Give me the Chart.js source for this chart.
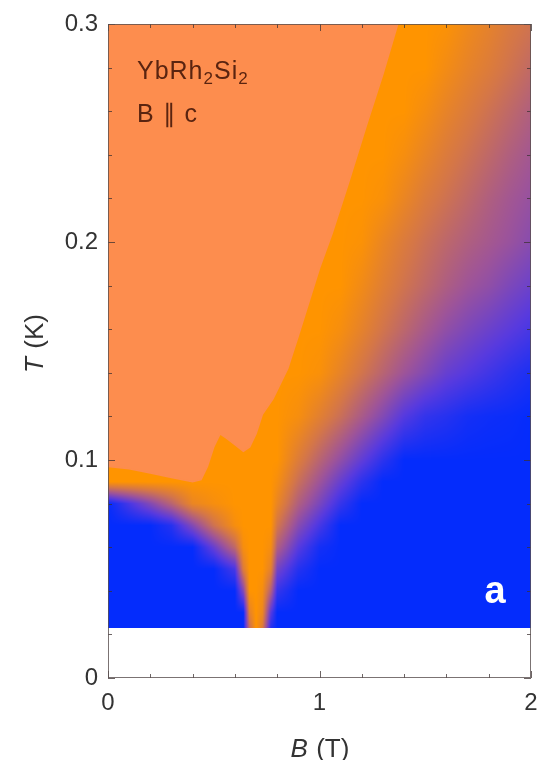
<!DOCTYPE html>
<html>
<head>
<meta charset="utf-8">
<script src="https://cdn.jsdelivr.net/npm/chart.js@4.4.1/dist/chart.umd.min.js"></script>
<style>
	html, body { margin: 0; padding: 0; background: #fff; }
	canvas { display: block; }
</style>
</head>
<body>
<canvas id="myChart" width="538" height="760"></canvas>
<script>
// grid of the colour map: field B (T) columns, temperature T (K) rows
const fieldB = [0, 0.1, 0.2, 0.3, 0.4, 0.5, 0.6, 0.64, 0.67, 0.7, 0.73, 0.77, 0.8, 0.9, 1.0, 1.1, 1.2, 1.3, 1.4, 1.5, 1.6, 1.7, 1.8, 1.9, 2.0]
const tempT = [0.023, 0.03, 0.04, 0.05, 0.06, 0.07, 0.08, 0.09, 0.1, 0.12, 0.14, 0.16, 0.18, 0.2, 0.22, 0.24, 0.26, 0.28, 0.3]

// resistivity exponent, one row per temperature (1 = orange, 2 = blue)
const exponent = [
	[2, 2, 2, 2, 2, 2, 2, 2, 1.3, 1, 1.2, 1.9, 2, 2, 2, 2, 2, 2, 2, 2, 2, 2, 2, 2, 2],
	[2, 2, 2, 2, 2, 2, 2, 2, 1.15, 1, 1.1, 1.75, 2, 2, 2, 2, 2, 2, 2, 2, 2, 2, 2, 2, 2],
	[2, 2, 2, 2, 2, 2, 2, 1.6, 1, 1, 1.05, 1.4, 1.85, 2, 2, 2, 2, 2, 2, 2, 2, 2, 2, 2, 2],
	[2, 2, 2, 2, 2, 2, 1.8, 1.2, 1, 1, 1, 1.15, 1.65, 1.9, 2, 2, 2, 2, 2, 2, 2, 2, 2, 2, 2],
	[2, 2, 2, 2, 2, 1.7, 1.35, 1.05, 1, 1, 1, 1.05, 1.42, 1.75, 1.95, 2, 2, 2, 2, 2, 2, 2, 2, 2, 2],
	[2, 2, 2, 1.9, 1.6, 1.28, 1.05, 1, 1, 1, 1, 1, 1.25, 1.58, 1.8, 2, 2, 2, 2, 2, 2, 2, 2, 2, 2],
	[2, 1.8, 1.6, 1.38, 1.12, 1.05, 1, 1, 1, 1, 1, 1, 1.12, 1.42, 1.63, 1.85, 2, 2, 2, 2, 2, 2, 2, 2, 2],
	[1, 1, 1, 1, 1, 1, 1, 1, 1, 1, 1, 1, 1.05, 1.3, 1.5, 1.7, 1.88, 2, 2, 2, 2, 2, 2, 2, 2],
	[1, 1, 1, 1, 1, 1, 1, 1, 1, 1, 1, 1, 1, 1.2, 1.38, 1.55, 1.72, 1.88, 2, 2, 2, 2, 2, 2, 2],
	[1, 1, 1, 1, 1, 1, 1, 1, 1, 1, 1, 1, 1, 1.05, 1.17, 1.3, 1.45, 1.6, 1.76, 1.86, 1.9, 1.95, 1.97, 1.98, 2],
	[1, 1, 1, 1, 1, 1, 1, 1, 1, 1, 1, 1, 1, 1, 1.03, 1.14, 1.26, 1.38, 1.5, 1.6, 1.7, 1.76, 1.82, 1.88, 1.93],
	[1, 1, 1, 1, 1, 1, 1, 1, 1, 1, 1, 1, 1, 1, 1, 1.05, 1.15, 1.26, 1.36, 1.46, 1.55, 1.62, 1.68, 1.74, 1.8],
	[1, 1, 1, 1, 1, 1, 1, 1, 1, 1, 1, 1, 1, 1, 1, 1, 1.08, 1.18, 1.27, 1.35, 1.43, 1.5, 1.55, 1.62, 1.68],
	[1, 1, 1, 1, 1, 1, 1, 1, 1, 1, 1, 1, 1, 1, 1, 1, 1.02, 1.12, 1.21, 1.29, 1.36, 1.42, 1.47, 1.52, 1.58],
	[1, 1, 1, 1, 1, 1, 1, 1, 1, 1, 1, 1, 1, 1, 1, 1, 1, 1.03, 1.12, 1.21, 1.28, 1.35, 1.42, 1.48, 1.53],
	[1, 1, 1, 1, 1, 1, 1, 1, 1, 1, 1, 1, 1, 1, 1, 1, 1, 1, 1.05, 1.13, 1.21, 1.28, 1.35, 1.42, 1.48],
	[1, 1, 1, 1, 1, 1, 1, 1, 1, 1, 1, 1, 1, 1, 1, 1, 1, 1, 1, 1.06, 1.14, 1.21, 1.28, 1.35, 1.42],
	[1, 1, 1, 1, 1, 1, 1, 1, 1, 1, 1, 1, 1, 1, 1, 1, 1, 1, 1, 1, 1.07, 1.14, 1.2, 1.27, 1.34],
	[1, 1, 1, 1, 1, 1, 1, 1, 1, 1, 1, 1, 1, 1, 1, 1, 1, 1, 1, 1, 1.02, 1.09, 1.15, 1.22, 1.27],
]

// upper crossover line, above it the light salmon region
const edgeB = [0, 0.1, 0.2, 0.3, 0.4, 0.44, 0.47, 0.5, 0.53, 0.56, 0.6, 0.64, 0.67, 0.7, 0.73, 0.78, 0.85, 0.9, 1.0, 1.06, 1.14, 1.22, 1.3, 1.37]
const edgeT = [0.097, 0.096, 0.094, 0.092, 0.09, 0.091, 0.097, 0.106, 0.112, 0.11, 0.107, 0.104, 0.106, 0.112, 0.121, 0.128, 0.142, 0.157, 0.188, 0.204, 0.228, 0.253, 0.277, 0.3]

const SALMON = 'rgb(253,141,78)'
const stops = [
	[1, [255, 148, 0]],
	[1.25, [212, 118, 72]],
	[1.5, [158, 84, 152]],
	[1.75, [88, 58, 222]],
	[2, [4, 44, 252]],
]

function colourOf(e) {
	if (e <= stops[0][0]) return stops[0][1]
	for (let k = 1; k < stops.length; k++) {
		if (e <= stops[k][0]) {
			const f = (e - stops[k - 1][0]) / (stops[k][0] - stops[k - 1][0])
			const a = stops[k - 1][1], b = stops[k][1]
			return [a[0] + (b[0] - a[0]) * f, a[1] + (b[1] - a[1]) * f, a[2] + (b[2] - a[2]) * f]
		}
	}
	return stops[stops.length - 1][1]
}

function locate(arr, v) {
	if (v < arr[0] - 1e-9) return null
	let k = 0
	while (k < arr.length - 2 && v > arr[k + 1]) k++
	const f = Math.min(1, Math.max(0, (v - arr[k]) / (arr[k + 1] - arr[k])))
	return [k, f]
}

const heatmap = {
	id: 'heatmap',
	beforeDatasetsDraw(chart) {
		const { ctx, chartArea: a, scales: { x, y } } = chart
		const w = Math.round(a.right - a.left)
		const h = Math.round(a.bottom - a.top)
		const off = document.createElement('canvas')
		off.width = w
		off.height = h
		const octx = off.getContext('2d')
		const img = octx.createImageData(w, h)
		const cols = []
		const rows = []
		for (let i = 0; i < w; i++) cols.push(locate(fieldB, x.getValueForPixel(a.left + i + 0.5)))
		for (let j = 0; j < h; j++) rows.push(locate(tempT, y.getValueForPixel(a.top + j + 0.5)))
		for (let j = 0; j < h; j++) {
			const r = rows[j]
			if (!r) continue
			const [rj, fy] = r
			for (let i = 0; i < w; i++) {
				const [ci, fx] = cols[i]
				const e =
					(1 - fx) * (1 - fy) * exponent[rj][ci] +
					fx * (1 - fy) * exponent[rj][ci + 1] +
					(1 - fx) * fy * exponent[rj + 1][ci] +
					fx * fy * exponent[rj + 1][ci + 1]
				const c = colourOf(e)
				const p = (j * w + i) * 4
				img.data[p] = c[0]
				img.data[p + 1] = c[1]
				img.data[p + 2] = c[2]
				img.data[p + 3] = 255
			}
		}
		octx.putImageData(img, 0, 0)
		ctx.drawImage(off, a.left, a.top)
	},
}

const decorations = {
	id: 'decorations',
	afterDraw(chart) {
		const { ctx, chartArea: a, scales: { x, y } } = chart
		ctx.save()
		// ticks on all four sides, pointing inwards
		ctx.strokeStyle = 'rgba(60,50,50,0.75)'
		ctx.lineWidth = 1
		const seg = (x1, y1, x2, y2) => {
			ctx.beginPath()
			ctx.moveTo(x1, y1)
			ctx.lineTo(x2, y2)
			ctx.stroke()
		}
		x.ticks.forEach((t) => {
			const px = Math.round(x.getPixelForValue(t.value)) + 0.5
			const len = Math.abs(t.value - Math.round(t.value)) < 1e-6 ? 7 : 4
			seg(px, a.bottom, px, a.bottom - len)
			seg(px, a.top, px, a.top + len)
		})
		y.ticks.forEach((t) => {
			const py = Math.round(y.getPixelForValue(t.value)) + 0.5
			const len = Math.abs(t.value * 10 - Math.round(t.value * 10)) < 1e-6 ? 7 : 4
			seg(a.left, py, a.left + len, py)
			seg(a.right, py, a.right - len, py)
		})
		ctx.strokeStyle = 'rgba(90,80,80,0.8)'
		ctx.strokeRect(a.left + 0.5, a.top + 0.5, a.right - a.left - 1, a.bottom - a.top - 1)

		// axis titles
		ctx.fillStyle = '#333'
		ctx.textBaseline = 'alphabetic'
		const mixed = (italic, rest, size, cx, cy) => {
			ctx.font = 'italic ' + size + 'px "Liberation Sans", Arial, sans-serif'
			const w1 = ctx.measureText(italic).width
			ctx.font = size + 'px "Liberation Sans", Arial, sans-serif'
			const w2 = ctx.measureText(rest).width
			const x0 = cx - (w1 + w2) / 2
			ctx.font = 'italic ' + size + 'px "Liberation Sans", Arial, sans-serif'
			ctx.fillText(italic, x0, cy)
			ctx.font = size + 'px "Liberation Sans", Arial, sans-serif'
			ctx.fillText(rest, x0 + w1 + 1, cy)
		}
		mixed('B', ' (T)', 26, x.getPixelForValue(1), 757)
		ctx.save()
		ctx.translate(43, (a.top + a.bottom) / 2 - 7)
		ctx.rotate(-Math.PI / 2)
		mixed('T', ' (K)', 26, 0, 0)
		ctx.restore()

		// labels inside the panel
		ctx.fillStyle = '#5a2410'
		ctx.letterSpacing = '1px'
		let px = x.getPixelForValue(0.137)
		const base1 = y.getPixelForValue(0.275)
		const parts = [['YbRh', 25, 0], ['2', 17, 5], ['Si', 25, 0], ['2', 17, 5]]
		parts.forEach(([s, size, dy]) => {
			ctx.font = size + 'px "Liberation Sans", Arial, sans-serif'
			ctx.fillText(s, px, base1 + dy)
			px += ctx.measureText(s).width
		})
		ctx.font = '25px "Liberation Sans", Arial, sans-serif'
		ctx.fillText('B \u2225 c', x.getPixelForValue(0.137), y.getPixelForValue(0.255))
		ctx.letterSpacing = '0px'

		ctx.fillStyle = '#ffffff'
		ctx.font = 'bold 38px "Liberation Sans", Arial, sans-serif'
		ctx.textAlign = 'right'
		ctx.fillText('a', x.getPixelForValue(1.88), y.getPixelForValue(0.0345))
		ctx.restore()
	},
}

const canvas = document.getElementById('myChart')

const config = {
	type: 'scatter',
	data: {
		datasets: [
			{
				data: edgeB.map((b, i) => ({ x: b, y: edgeT[i] })),
				showLine: true,
				fill: 'end',
				backgroundColor: SALMON,
				borderColor: SALMON,
				borderWidth: 1.5,
				pointRadius: 0,
				tension: 0,
			},
		],
	},
	options: {
		responsive: false,
		devicePixelRatio: 1,
		animation: false,
		layout: { padding: { top: 24, right: 7, left: 0, bottom: 0 } },
		plugins: {
			legend: { display: false },
			tooltip: { enabled: false },
		},
		scales: {
			x: {
				type: 'linear',
				min: 0,
				max: 2,
				grid: { display: false, drawTicks: false },
				border: { display: false },
				ticks: {
					stepSize: 0.2,
					autoSkip: false,
					maxRotation: 0,
					padding: 11,
					color: '#333',
					font: { family: '"Liberation Sans", Arial, sans-serif', size: 24 },
					callback: (v) => (Math.abs(v - Math.round(v)) < 1e-6 ? String(Math.round(v)) : ''),
				},
				afterFit: (scale) => {
					scale.height = 82
					scale.paddingLeft = 0
					scale.paddingRight = 0
				},
			},
			y: {
				type: 'linear',
				min: 0,
				max: 0.3,
				grid: { display: false, drawTicks: false },
				border: { display: false },
				ticks: {
					stepSize: 0.02,
					autoSkip: false,
					padding: 10,
					color: '#333',
					font: { family: '"Liberation Sans", Arial, sans-serif', size: 24 },
					callback: (v) => {
						const d = Math.round(v * 10)
						if (Math.abs(v * 10 - d) > 1e-6) return ''
						return d === 0 ? '0' : (d / 10).toFixed(1)
					},
				},
				afterFit: (scale) => {
					scale.width = 108
					scale.paddingTop = 0
					scale.paddingBottom = 0
				},
			},
		},
	},
	plugins: [heatmap, decorations],
}

const myChart = new Chart(canvas, config)
</script>
</body>
</html>
